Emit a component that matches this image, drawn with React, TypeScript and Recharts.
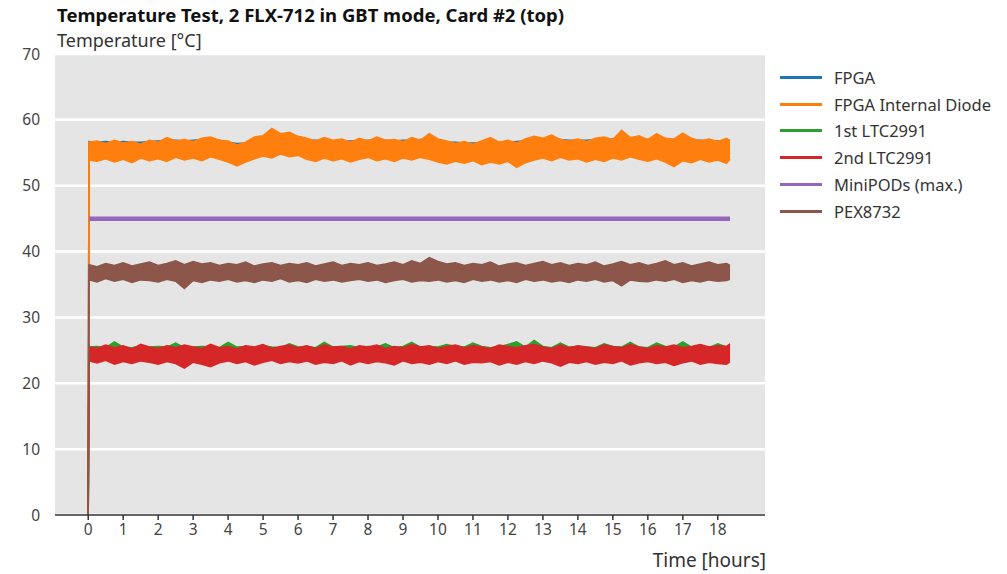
import { ComposedChart, Area, Line, XAxis, YAxis, CartesianGrid } from 'recharts';

// sampling grid (hours): start sample, then every 15 min, last sample
const timeGrid = [0, 0.02, ...Array.from({ length: 73 }, (_, i) => (i + 1) * 0.25), 18.35];

// each band = min / max of the noisy trace around that time
const fpgaHi = [
  56.7, 56.6, 56.7, 56.6, 56.7, 56.6, 56.6, 56.7,
  56.8, 56.9, 56.9, 56.8, 56.9, 57.0, 57.0, 56.9,
  56.6, 56.4, 56.5, 56.9, 57.2, 57.4, 57.5, 57.4,
  57.2, 56.9, 56.9, 56.9, 56.8, 56.8, 56.8, 56.8,
  56.9, 56.9, 56.9, 56.8, 56.9, 56.9, 57.0, 57.1,
  56.8, 56.6, 56.6, 56.5, 56.5, 56.5, 56.6, 56.6,
  56.6, 56.7, 56.8, 57.0, 57.1, 57.1, 57.0, 56.9,
  56.9, 56.9, 57.0, 57.0, 57.1, 57.2, 57.1, 57.1,
  57.0, 57.0, 56.9, 56.9, 57.0, 56.9, 56.9, 56.8,
  56.8, 56.8, 56.9,
];
const fpgaLo = [
  54.8, 54.9, 55.0, 54.7, 55.1, 54.8, 55.0, 54.9,
  55.1, 54.8, 55.2, 55.0, 55.1, 54.9, 55.3, 55.0,
  54.7, 54.3, 54.6, 55.0, 55.4, 55.3, 55.6, 55.4,
  55.5, 55.1, 54.8, 55.2, 54.9, 55.1, 54.7, 55.0,
  55.2, 54.9, 55.1, 54.8, 55.2, 55.0, 55.3, 55.1,
  54.7, 54.5, 54.8, 54.5, 54.9, 54.4, 54.7, 54.5,
  54.8, 54.2, 54.6, 55.0, 55.2, 54.9, 55.3, 55.0,
  55.1, 54.7, 55.0, 54.8, 55.2, 55.0, 55.4, 55.1,
  54.8, 55.1, 54.7, 54.3, 54.9, 54.6, 55.0, 54.7,
  54.9, 54.6, 55.0,
];
const diodeHi = [
  56.6, 56.8, 56.4, 56.9, 56.5, 56.7, 56.3, 56.9,
  56.6, 57.3, 56.8, 57.0, 56.7, 57.2, 57.4, 56.9,
  56.8, 56.2, 56.6, 57.4, 57.6, 58.7, 57.9, 58.1,
  57.5, 57.2, 56.8, 57.3, 56.9, 57.1, 56.6, 57.2,
  56.8, 57.4, 56.9, 57.0, 56.7, 57.3, 56.9, 57.9,
  57.1, 56.8, 56.4, 56.7, 56.3, 56.8, 57.3, 56.6,
  56.9, 56.5, 57.1, 57.5, 57.2, 57.7, 57.0, 56.8,
  57.1, 56.7, 57.2, 57.4, 57.0, 58.4, 57.3, 57.6,
  57.0, 57.9, 57.2, 57.1, 58.0, 57.2, 56.8, 57.1,
  56.7, 57.2, 56.8,
];
const diodeLo = [
  53.9, 53.7, 54.1, 53.6, 54.0, 53.5, 54.2, 53.8,
  54.1, 53.7, 54.3, 53.9, 54.2, 53.8, 54.4, 54.0,
  53.6, 53.0, 53.6, 54.1, 54.5, 54.2, 54.8, 54.4,
  54.6, 54.0, 53.7, 54.2, 53.8, 54.1, 53.6, 54.0,
  54.3, 53.8, 54.1, 53.7, 54.2, 53.9, 54.3, 54.0,
  53.6, 53.3, 53.7, 53.4, 53.8, 53.2, 53.6, 53.3,
  53.7, 52.8, 53.5, 53.9, 54.2, 53.8, 54.3, 53.9,
  54.1, 53.6, 54.0, 53.7, 54.2, 53.9, 54.4, 54.0,
  53.7, 54.1, 53.6, 52.9, 53.8, 53.5, 54.0, 53.6,
  53.9, 53.4, 54.0,
];
const ltc1Hi = [
  25.5, 25.6, 25.4, 26.3, 25.5, 25.4, 25.7, 25.5,
  25.6, 25.5, 26.1, 25.4, 25.5, 25.6, 25.5, 25.4,
  26.2, 25.5, 25.6, 25.4, 25.7, 25.5, 25.4, 26.0,
  25.5, 25.6, 25.4, 26.2, 25.5, 25.6, 25.7, 25.4,
  25.6, 25.5, 26.0, 25.4, 25.6, 26.2, 25.5, 25.6,
  25.5, 25.9, 25.6, 25.5, 26.1, 25.6, 25.4, 25.5,
  25.9, 26.3, 25.5, 26.5, 25.6, 25.4, 26.1, 25.5,
  25.6, 25.5, 25.4, 26.0, 25.6, 25.5, 26.2, 25.5,
  25.4, 26.1, 25.6, 25.5, 26.3, 25.5, 25.6, 25.4,
  26.0, 25.5, 25.7,
];
const ltc1Lo = [
  23.8, 23.6, 24.0, 23.7, 23.9, 23.5, 23.8, 24.0,
  23.7, 23.9, 23.6, 23.8, 24.0, 23.7, 23.9, 23.6,
  23.8, 24.0, 23.7, 23.9, 23.6, 23.8, 24.1, 23.7,
  23.9, 23.6, 23.8, 24.0, 23.7, 23.9, 23.6, 23.8,
  24.0, 23.7, 23.9, 23.6, 23.8, 24.0, 23.7, 23.9,
  23.6, 23.8, 24.0, 23.7, 23.9, 23.6, 23.8, 24.0,
  23.7, 23.9, 23.6, 23.8, 24.0, 23.7, 23.9, 23.6,
  23.8, 24.0, 23.7, 23.9, 23.6, 23.8, 24.0, 23.7,
  23.9, 23.6, 23.8, 24.0, 23.7, 23.9, 23.6, 23.8,
  24.0, 23.7, 23.9,
];
const ltc2Hi = [
  25.6, 25.3, 25.8, 25.4, 25.7, 25.2, 25.9, 25.5,
  25.3, 25.7, 25.4, 25.8, 25.5, 25.3, 25.9, 25.4,
  25.6, 25.2, 25.7, 25.5, 25.9, 25.3, 25.6, 25.8,
  25.4, 25.7, 25.3, 25.8, 25.5, 25.6, 25.2, 25.7,
  25.5, 25.8, 25.3, 25.6, 25.4, 25.9, 25.5, 25.7,
  25.3, 25.6, 25.8, 25.4, 25.7, 25.5, 25.3, 25.8,
  25.6, 25.4, 25.7, 25.9, 25.5, 25.3, 25.8, 25.4,
  25.7, 25.5, 25.3, 25.8, 25.6, 25.4, 25.9, 25.5,
  25.3, 25.7, 25.5, 25.8, 25.4, 25.6, 25.9, 25.5,
  25.7, 25.6, 26.0,
];
const ltc2Lo = [
  23.4, 23.1, 23.5, 22.9, 23.3, 23.0, 23.4, 23.2,
  22.9, 23.3, 23.0, 22.3, 23.2, 22.9, 22.5, 23.1,
  23.4, 23.0, 23.3, 22.8, 23.2, 23.5, 23.0, 23.3,
  23.1, 23.4, 22.9, 23.2, 23.0, 23.4, 22.8, 23.3,
  23.0, 23.3, 23.1, 22.8, 23.4, 23.0, 23.2, 22.9,
  23.3, 23.0, 23.4, 22.9, 23.2, 23.1, 23.3, 22.8,
  23.2, 22.9, 23.3, 23.0, 23.4, 23.1, 22.6, 23.2,
  23.0, 23.3, 22.9, 23.2, 23.0, 23.4, 22.8, 23.1,
  23.3, 23.0, 23.2, 22.7, 23.1, 23.4, 22.9, 23.2,
  23.0, 22.9, 23.3,
];
const pexHi = [
  38.0, 37.7, 38.2, 37.9, 38.3, 37.8, 38.1, 38.4,
  37.9, 38.2, 38.6, 38.0, 38.5, 38.1, 38.3, 37.9,
  38.2, 38.0, 38.4, 37.8, 38.1, 38.3, 37.9, 38.2,
  38.0, 38.3, 37.8, 38.1, 38.4, 37.9, 38.2, 38.0,
  38.3, 37.9, 38.1, 38.4, 38.0, 38.6, 38.2, 39.1,
  38.5, 38.1, 38.3, 37.9, 38.2, 38.0, 38.4, 37.8,
  38.1, 38.3, 37.9, 38.2, 38.5, 38.0, 38.3, 37.9,
  38.2, 38.0, 38.4, 37.8, 38.1, 38.5, 38.0, 38.3,
  37.9, 38.2, 38.6, 38.0, 38.3, 37.8, 38.1, 38.4,
  38.0, 38.2, 37.9,
];
const pexLo = [
  35.7, 35.4, 35.9, 35.5, 35.8, 35.3, 35.7, 35.6,
  35.4, 35.8, 35.5, 34.4, 35.6, 35.3, 35.7, 35.5,
  35.8, 35.4, 35.6, 35.3, 35.7, 35.5, 35.9, 35.4,
  35.6, 35.3, 35.8, 35.5, 35.7, 35.4, 35.6, 35.8,
  35.5, 35.7, 35.3, 35.6, 35.8, 35.4, 35.6, 35.5,
  35.7, 35.4, 35.6, 35.3, 35.8, 35.5, 35.7, 35.4,
  35.6, 35.3, 35.8, 35.5, 35.7, 35.4, 35.6, 35.3,
  35.7, 35.5, 35.8, 35.4, 35.6, 34.8, 35.7, 35.5,
  35.4, 35.7, 35.5, 35.8, 35.3, 35.6, 35.4, 35.7,
  35.5, 35.6, 35.8,
];

const miniPodsTime = [0.02, 18.35];
const miniPodsTemp = [45, 45];

const xTicks = [0, 1, 2, 3, 4, 5, 6, 7, 8, 9, 10, 11, 12, 13, 14, 15, 16, 17, 18];
const yTicks = [0, 10, 20, 30, 40, 50, 60, 70];

const series = [
  { key: 'fpga', label: 'FPGA', color: '#1f77b4' },
  { key: 'diode', label: 'FPGA Internal Diode', color: '#ff7f0e' },
  { key: 'ltc1', label: '1st LTC2991', color: '#2ca02c' },
  { key: 'ltc2', label: '2nd LTC2991', color: '#d62728' },
  { key: 'miniPods', label: 'MiniPODs (max.)', color: '#9467bd' },
  { key: 'pex', label: 'PEX8732', color: '#8c564b' },
];

const bands: Record<string, [number[], number[]]> = {
  fpga: [fpgaLo, fpgaHi],
  diode: [diodeLo, diodeHi],
  ltc1: [ltc1Lo, ltc1Hi],
  ltc2: [ltc2Lo, ltc2Hi],
  pex: [pexLo, pexHi],
};

const rows = timeGrid.map((t, i) => {
  const row: Record<string, unknown> = { t };
  Object.entries(bands).forEach(([key, [lo, hi]]) => {
    row[key] = i === 0 ? [0, 0] : [lo[i - 1], hi[i - 1]];
  });
  return row;
});

const miniPodsData = miniPodsTime.map((t, i) => ({ t, v: miniPodsTemp[i] }));

const font = '"Noto Sans", "Open Sans", sans-serif';
const tickStyle = { fill: '#444', fontSize: 15.5, fontFamily: font };

const color = (key: string) => series.find((s) => s.key === key)!.color;

const renderBand = (key: string) => (
  <Area
    key={key}
    type="linear"
    dataKey={key}
    stroke={color(key)}
    strokeWidth={1.5}
    fill={color(key)}
    fillOpacity={1}
    dot={false}
    activeDot={false}
    isAnimationActive={false}
  />
);

export default function App() {
  return (
    <div style={{ position: 'absolute', left: 0, top: 0, width: 1007, height: 574, background: '#fff', fontFamily: font }}>
      <div style={{ position: 'absolute', left: 57, top: 4, fontSize: 18.5, lineHeight: '21px', fontWeight: 700, color: '#111', whiteSpace: 'nowrap' }}>
        Temperature Test, 2 FLX-712 in GBT mode, Card #2 (top)
      </div>
      <div style={{ position: 'absolute', left: 57, top: 30, fontSize: 18, lineHeight: '20px', color: '#333', whiteSpace: 'nowrap' }}>
        Temperature [°C]
      </div>
      <div style={{ position: 'absolute', right: 1007 - 766, top: 547, fontSize: 19, color: '#333', whiteSpace: 'nowrap' }}>
        Time [hours]
      </div>

      <ComposedChart
        width={1007}
        height={574}
        data={rows}
        margin={{ top: 54, right: 242, bottom: 29, left: 0 }}
      >
        <CartesianGrid vertical={false} stroke="#ffffff" strokeWidth={2.5} fill="#e5e5e5" fillOpacity={1} />
        <XAxis
          dataKey="t"
          type="number"
          domain={[-0.95, 19.35]}
          ticks={xTicks}
          allowDataOverflow
          height={30}
          tick={tickStyle}
          axisLine={{ stroke: '#333', strokeWidth: 1.5 }}
          tickLine={{ stroke: '#333', strokeWidth: 1.5 }}
          tickSize={5}
          tickMargin={4}
          interval={0}
        />
        <YAxis
          type="number"
          domain={[0, 70]}
          ticks={yTicks}
          width={55}
          tick={tickStyle}
          axisLine={false}
          tickLine={false}
          tickSize={0}
          tickMargin={15}
          interval={0}
        />
        {renderBand('fpga')}
        {renderBand('diode')}
        {renderBand('ltc1')}
        {renderBand('ltc2')}
        <Line
          data={miniPodsData}
          dataKey="v"
          type="linear"
          stroke={color('miniPods')}
          strokeWidth={4.5}
          dot={false}
          activeDot={false}
          isAnimationActive={false}
        />
        {renderBand('pex')}
      </ComposedChart>

      <div style={{ position: 'absolute', left: 780, top: 64 }}>
        {series.map((s) => (
          <div key={s.key} style={{ display: 'flex', alignItems: 'center', height: 26.8 }}>
            <div style={{ width: 42, height: 3, background: s.color }} />
            <div style={{ marginLeft: 12, fontSize: 16.5, color: '#333', whiteSpace: 'nowrap' }}>{s.label}</div>
          </div>
        ))}
      </div>
    </div>
  );
}
